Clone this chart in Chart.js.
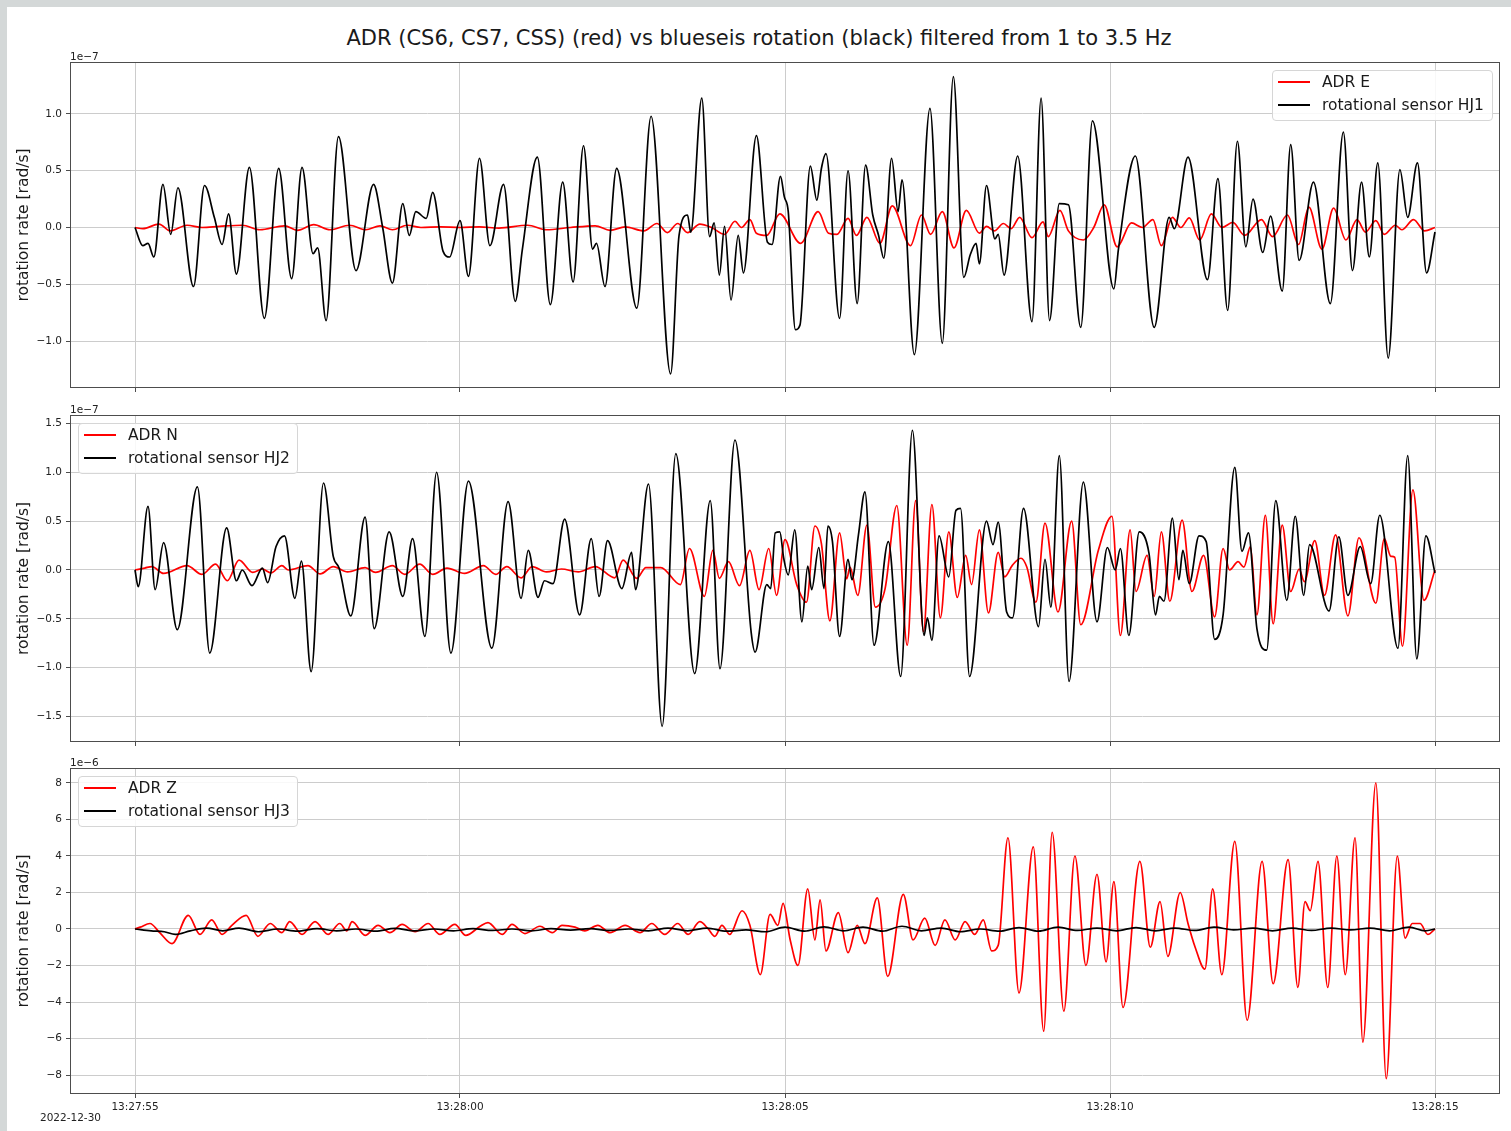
<!DOCTYPE html>
<html>
<head>
<meta charset="utf-8">
<script src="https://cdn.jsdelivr.net/npm/chart.js@4.4.1/dist/chart.umd.min.js"></script>
<style>
  html, body { margin: 0; padding: 0; width: 1511px; height: 1131px; overflow: hidden;
    background: #d4d8d8; font-family: 'DejaVu Sans', sans-serif; color: #222; }
  #fig { position: absolute; left: 7px; top: 7px; right: 0; bottom: 0; background: #fff; }
  .panel { position: absolute; left: 0; width: 1511px; }
  .txt { position: absolute; white-space: nowrap; }
  #title { left: 7px; width: 1504px; top: 26px; text-align: center; font-size: 21px; line-height: 24px; color: #1a1a1a; }
  .offset { font-size: 10.5px; line-height: 12px; color: #222; }
  .legend { position: absolute; background: rgba(255,255,255,0.85); border: 1px solid #d6d6d6;
    border-radius: 4px; box-sizing: border-box; }
  .legend .row { position: absolute; left: 0; height: 20px; font-size: 15.5px; line-height: 20px; color: #1a1a1a; }
  .legend .swatch { position: absolute; left: 5px; top: 9px; width: 32px; height: 2px; }
  .legend .lab { position: absolute; left: 49px; top: 0; white-space: nowrap; }
</style>
</head>
<body>
<div id="fig"></div>
<div id="title" class="txt">ADR (CS6, CS7, CSS) (red) vs blueseis rotation (black) filtered from 1 to 3.5 Hz</div>
<div id="panels"></div>
<script>
// ---- time axis (seconds after 13:27:55 on 2022-12-30) ----
const tickSeconds = [0, 5, 10, 15, 20];
const tickLabels = ['13:27:55', '13:28:00', '13:28:05', '13:28:10', '13:28:15'];
const dateLabel = '2022-12-30';

// ---- East component, values in 1e-7 rad/s ----
const yTicksE = [-1.0, -0.5, 0.0, 0.5, 1.0];
const adrE_t = [0, 0.12, 0.37, 0.54, 0.8, 1.03, 1.3, 1.65, 1.92, 2.3, 2.5, 2.75, 3.0, 3.3, 3.55, 3.77, 3.96, 4.19, 4.4, 4.7, 5.0, 5.3, 5.6, 6.04, 6.33, 6.7, 7.08, 7.31, 7.54, 7.83, 8.03, 8.19, 8.35, 8.5, 8.69, 8.87, 9.07, 9.23, 9.33, 9.46, 9.56, 9.72, 9.92,
  10.24, 10.51, 10.67, 10.80, 10.97, 11.10, 11.26, 11.46, 11.65, 11.93, 12.10, 12.24, 12.42, 12.60, 12.79, 12.99, 13.10, 13.22, 13.36, 13.48, 13.61, 13.80, 13.97, 14.05, 14.23, 14.36, 14.59, 14.75, 14.91, 15.11, 15.33, 15.50, 15.66, 15.79, 15.96, 16.09, 16.22, 16.38, 16.56, 16.72, 16.89, 17.07, 17.33, 17.50, 17.73, 17.90, 18.06, 18.26, 18.44, 18.63, 18.80, 18.93, 19.09, 19.22, 19.39, 19.49, 19.67, 19.84, 20.0];
const adrE_v = [0, -0.01, 0.03, -0.03, 0.02, 0, 0.01, 0.02, -0.02, 0.015, -0.025, 0.025, -0.02, 0.02, -0.02, 0.015, -0.02, 0.02, 0, 0.005, 0, 0.005, -0.005, 0.02, -0.02, 0, 0.015, -0.025, 0.005, -0.03, 0.035, -0.045, 0.035, -0.045, 0.03, 0.0, -0.06, 0.055, 0.0, 0.07, -0.05, -0.07, 0.12,
  -0.14, 0.14, -0.05, -0.06, 0.08, -0.07, 0.09, -0.14, 0.19, -0.16, 0.11, -0.06, 0.14, -0.18, 0.15, -0.05, 0.01, -0.03, 0.035, -0.01, 0.09, -0.09, 0.05, -0.08, 0.15, -0.03, -0.11, 0.0, 0.20, -0.17, 0.04, 0.0, 0.07, -0.16, 0.09, 0.0, 0.085, -0.11, 0.12, 0.0, 0.045, -0.07, 0.07, -0.08, 0.11, -0.15, 0.18, -0.19, 0.17, -0.11, 0.07, -0.04, 0.06, -0.06, 0.02, -0.02, 0.07, -0.03, 0];
const hj1_t = [0, 0.12, 0.2, 0.29, 0.43, 0.55, 0.66, 0.90, 1.07, 1.22, 1.34, 1.44, 1.56, 1.76, 1.99, 2.21, 2.41, 2.57, 2.74, 2.81, 2.94, 3.13, 3.40, 3.67, 3.81, 3.96, 4.12, 4.22, 4.32, 4.48, 4.58, 4.74, 4.84, 5.0, 5.13, 5.30, 5.46, 5.67, 5.85, 5.96, 6.19, 6.39, 6.58, 6.74, 6.90, 7.04, 7.10, 7.23, 7.41, 7.72, 7.94, 8.24, 8.37, 8.50, 8.55, 8.72, 8.84, 8.91, 8.99, 9.07, 9.17, 9.28, 9.36, 9.56, 9.73, 9.80, 9.93, 9.99,
  10.05, 10.16, 10.23, 10.39, 10.49, 10.56, 10.63, 10.84, 10.97, 11.11, 11.24, 11.35, 11.44, 11.52, 11.64, 11.74, 11.80, 11.99, 12.23, 12.42, 12.59, 12.75, 12.85, 12.94, 12.99, 13.10, 13.23, 13.28, 13.37, 13.58, 13.80, 13.94, 14.07, 14.22, 14.36, 14.55, 14.73, 15.06, 15.13, 15.39, 15.68, 15.91, 15.99, 16.20, 16.50, 16.66, 16.81, 16.96, 17.09, 17.20, 17.35, 17.47, 17.65, 17.78, 17.91, 18.13, 18.39, 18.59, 18.73, 18.87, 18.99, 19.12, 19.28, 19.46, 19.58, 19.73, 19.87, 20.0];
const hj1_v = [0, -0.16, -0.14, -0.26, 0.38, -0.06, 0.35, -0.52, 0.37, 0.09, -0.15, 0.12, -0.41, 0.53, -0.80, 0.52, -0.45, 0.53, -0.23, -0.18, -0.82, 0.80, -0.38, 0.38, 0.0, -0.49, 0.21, -0.07, 0.14, 0.08, 0.31, -0.21, -0.26, 0.06, -0.43, 0.61, -0.16, 0.38, -0.65, -0.19, 0.62, -0.68, 0.40, -0.48, 0.72, -0.19, -0.14, -0.52, 0.52, -0.71, 0.98, -1.29, -0.07, 0.11, -0.04, 1.14, -0.08, 0.04, -0.42, 0.01, -0.64, -0.07, -0.40, 0.81, -0.13, -0.15, 0.45, 0.27,
  0.14, -0.90, -0.86, 0.54, 0.24, 0.52, 0.65, -0.80, 0.50, -0.67, 0.55, 0.11, -0.07, -0.27, 0.61, 0.14, 0.42, -1.12, 1.05, -1.02, 1.33, -0.44, -0.24, -0.14, -0.32, 0.37, -0.10, -0.06, -0.42, 0.63, -0.83, 1.14, -0.82, 0.21, 0.20, -0.88, 0.94, -0.54, -0.19, 0.63, -0.88, 0.09, -0.01, 0.62, -0.46, 0.43, -0.73, 0.76, -0.17, 0.25, -0.22, 0.10, -0.56, 0.73, -0.29, 0.40, -0.67, 0.84, -0.38, 0.40, -0.26, 0.57, -1.15, 0.51, 0.09, 0.57, -0.40, -0.04];

// ---- North component, values in 1e-7 rad/s ----
const yTicksN = [-1.5, -1.0, -0.5, 0.0, 0.5, 1.0, 1.5];
const adrN_t = [0, 0.15, 0.26, 0.44, 0.80, 1.03, 1.24, 1.42, 1.60, 1.81, 1.96, 2.09, 2.26, 2.36, 2.66, 2.85, 3.05, 3.27, 3.54, 3.70, 3.96, 4.15, 4.38, 4.58, 4.80, 5.07, 5.36, 5.55, 5.72, 5.94, 6.11, 6.33, 6.56, 6.82, 7.08, 7.38, 7.51, 7.72, 7.86, 8.09, 8.39, 8.53, 8.76, 8.89, 8.99, 9.13, 9.30, 9.46, 9.60, 9.75, 9.87, 10.0,
  10.18, 10.33, 10.46, 10.56, 10.69, 10.84, 10.95, 11.0, 11.12, 11.26, 11.39, 11.54, 11.72, 11.88, 12.01, 12.13, 12.26, 12.39, 12.52, 12.65, 12.78, 12.87, 12.99, 13.13, 13.28, 13.38, 13.50, 13.63, 13.72, 13.86, 14.00, 14.20, 14.41, 14.55, 14.82, 15.03, 15.16, 15.31, 15.40, 15.57, 15.68, 15.79, 15.92, 16.11, 16.26, 16.44, 16.61, 16.74, 16.84, 16.97, 17.06, 17.16, 17.26, 17.39, 17.51, 17.65, 17.78, 17.91, 17.99, 18.15, 18.30, 18.47, 18.66, 18.83, 19.09, 19.22, 19.32, 19.38, 19.50, 19.66, 19.83, 20.0];
const adrN_v = [0, 0.02, 0.035, -0.035, 0.045, -0.045, 0.06, -0.11, 0.10, -0.025, 0.01, -0.03, 0.045, 0.0, 0.045, -0.04, 0.035, -0.02, 0.025, -0.025, 0.045, -0.045, 0.06, -0.045, 0.02, -0.035, 0.045, -0.045, 0.035, -0.08, 0.035, -0.02, 0.01, -0.02, 0.035, -0.08, 0.10, -0.085, 0.025, 0.025, -0.15, 0.22, -0.27, 0.20, -0.085, 0.085, -0.16, 0.20, -0.20, 0.22, -0.26, 0.31,
  -0.15, -0.33, 0.45, 0.27, -0.52, 0.38, -0.09, 0.03, -0.26, 0.46, -0.38, -0.19, 0.66, -0.77, 0.71, -0.63, 0.67, -0.49, 0.39, -0.28, 0.15, -0.15, 0.41, -0.44, 0.18, -0.07, 0.05, 0.12, 0.03, -0.33, 0.48, -0.43, 0.50, -0.56, 0.20, 0.55, -0.67, 0.41, -0.22, 0.15, -0.27, 0.39, -0.32, 0.51, -0.22, 0.15, -0.48, 0.22, 0.0, 0.085, 0.03, 0.24, -0.46, 0.56, -0.55, 0.46, -0.22, 0.01, -0.12, 0.30, -0.26, 0.36, -0.47, 0.33, -0.34, 0.32, 0.14, 0.13, -0.78, 0.82, -0.31, 0];
const hj2_t = [0, 0.05, 0.20, 0.31, 0.44, 0.65, 0.96, 1.15, 1.41, 1.56, 1.65, 1.80, 1.96, 2.04, 2.17, 2.30, 2.46, 2.56, 2.71, 2.90, 3.05, 3.14, 3.32, 3.54, 3.68, 3.91, 4.12, 4.27, 4.46, 4.64, 4.86, 5.13, 5.49, 5.74, 5.94, 6.05, 6.20, 6.30, 6.43, 6.61, 6.84, 7.02, 7.14, 7.27, 7.49, 7.64, 7.70, 7.90, 8.11, 8.32, 8.61, 8.85, 9.00, 9.23, 9.48, 9.54, 9.72, 9.78, 9.85, 9.92, 9.98,
  10.05, 10.15, 10.26, 10.35, 10.41, 10.52, 10.60, 10.66, 10.73, 10.84, 10.97, 11.03, 11.13, 11.23, 11.37, 11.59, 11.78, 11.96, 12.14, 12.19, 12.26, 12.37, 12.52, 12.63, 12.70, 12.84, 13.10, 13.20, 13.28, 13.41, 13.50, 13.67, 13.90, 14.00, 14.09, 14.22, 14.37, 14.59, 14.80, 14.96, 15.08, 15.16, 15.29, 15.45, 15.60, 15.70, 15.76, 15.83, 15.96, 16.06, 16.12, 16.22, 16.37, 16.48, 16.61, 16.74, 16.92, 17.03, 17.13, 17.26, 17.41, 17.55, 17.72, 17.85, 17.98, 18.07, 18.37, 18.52, 18.66, 18.85, 19.01, 19.15, 19.43, 19.58, 19.72, 19.86, 20.0];
const hj2_v = [0, -0.17, 0.65, -0.20, 0.28, -0.61, 0.85, -0.85, 0.43, -0.11, 0.0, -0.16, 0.02, -0.13, 0.24, 0.35, -0.29, 0.09, -1.04, 0.89, 0.14, 0.02, -0.47, 0.54, -0.60, 0.39, -0.27, 0.32, -0.68, 1.00, -0.85, 0.91, -0.80, 0.70, -0.29, 0.20, -0.28, -0.11, -0.14, 0.52, -0.46, 0.32, -0.27, 0.30, -0.19, 0.18, -0.20, 0.88, -1.60, 1.19, -1.06, 0.71, -1.01, 1.33, -0.64, -0.84, -0.15, -0.19, 0.38, 0.39, 0.12,
  -0.05, 0.41, -0.53, 0.04, -0.20, 0.23, -0.19, 0.45, 0.29, -0.68, 0.11, -0.10, 0.36, 0.80, -0.77, 0.29, -1.09, 1.43, -0.67, -0.49, -0.72, 0.35, -0.07, 0.61, 0.63, -1.09, 0.50, 0.26, 0.49, -0.43, -0.49, 0.63, -0.58, 0.11, -0.38, 1.17, -1.14, 0.90, -0.53, 0.23, 0.0, 0.22, -0.67, 0.39, 0.17, -0.46, -0.27, -0.32, 0.53, -0.10, 0.20, -0.14, 0.35, 0.29, -0.71, -0.46, 1.05, 0.19, 0.38, -0.60, -0.82, 0.71, -0.31, 0.55, -0.26, 0.26, -0.42, 0.34, -0.26, 0.24, -0.14, 0.56, -0.80, 1.17, -0.91, 0.35, -0.03];

// ---- Vertical component, values in 1e-6 rad/s ----
const yTicksZ = [-8, -6, -4, -2, 0, 2, 4, 6, 8];
const adrZ_t = [
  0, 0.08, 0.23, 0.38, 0.57, 0.82, 1.0, 1.18, 1.34, 1.49,
  1.71, 1.89, 2.08, 2.26, 2.38, 2.57, 2.77, 2.97, 3.15, 3.26,
  3.34, 3.54, 3.74, 3.92, 4.11, 4.31, 4.51, 4.69, 4.92, 5.09,
  5.31, 5.43, 5.65, 5.80, 6.0, 6.23, 6.42, 6.57, 6.77, 6.92,
  7.12, 7.31, 7.54, 7.77, 7.95, 8.15, 8.35, 8.51, 8.69, 8.82,
  8.92, 9.03, 9.15, 9.34, 9.46, 9.62, 9.77, 9.89, 9.97, 10.08,
  10.20, 10.35, 10.46, 10.54, 10.63, 10.82, 10.97, 11.11, 11.23, 11.42,
  11.58, 11.82, 11.97, 12.15, 12.31, 12.46, 12.62, 12.77, 12.92, 13.05,
  13.18, 13.28, 13.43, 13.60, 13.82, 13.98, 14.11, 14.29, 14.46, 14.63,
  14.80, 14.94, 15.06, 15.20, 15.46, 15.62, 15.77, 15.89, 16.08, 16.20,
  16.31, 16.46, 16.58, 16.72, 16.92, 17.11, 17.34, 17.51, 17.74, 17.89,
  18.00, 18.08, 18.20, 18.35, 18.49, 18.62, 18.77, 18.89, 19.09, 19.25,
  19.42, 19.54, 19.65, 19.77, 19.89, 20.0];
const adrZ_v = [
  0, 0.1, 0.3, -0.2, -0.8, 0.75, -0.3, 0.5, -0.3, 0.2,
  0.75, -0.4, 0.3, -0.2, 0.4, -0.3, 0.4, -0.3, 0.3, -0.1,
  0.4, -0.35, 0.2, -0.2, 0.25, -0.15, 0.3, -0.3, 0.25, -0.35,
  0.15, 0.35, -0.3, 0.25, -0.25, 0.15, -0.2, 0.2, 0.1, -0.1,
  0.2, -0.2, 0.2, -0.2, 0.3, -0.3, 0.3, -0.3, 0.4, 0.0,
  -0.4, 0.2, -0.3, 1.0, 0.2, -2.5, 0.8, 0.2, 1.4, -0.6,
  -2.0, 2.2, -0.6, 1.6, -1.2, 0.9, -1.3, 0.2, -0.8, 1.7,
  -2.6, 1.9, -0.6, 0.6, -0.9, 0.5, -0.6, 0.4, -0.3, 0.5,
  -1.2, -0.9, 5.0, -3.5, 4.5, -5.6, 5.3, -4.5, 4.0, -2.0,
  3.0, -1.8, 2.6, -4.3, 3.7, -1.0, 1.5, -1.5, 2.0, 0.3,
  -1.0, -2.2, 2.2, -2.5, 4.8, -5.0, 3.7, -3.0, 3.8, -3.2,
  1.5, 1.0, 3.7, -3.2, 4.0, -2.5, 5.0, -6.2, 8.0, -8.2,
  4.0, -0.5, 0.3, 0.3, -0.3, 0];
const hj3_t = [0, 0.25, 0.45, 0.62, 0.85, 1.1, 1.35, 1.6, 1.9, 2.2, 2.5, 2.8, 3.1, 3.4, 3.7, 4.0, 4.3, 4.6, 4.9, 5.2, 5.5, 5.8, 6.1, 6.4, 6.7, 7.0, 7.3, 7.6, 7.9, 8.2, 8.5, 8.8, 9.1, 9.4, 9.7, 10.0, 10.3, 10.6, 10.9, 11.2, 11.5, 11.8, 12.1, 12.4, 12.7, 13.0, 13.3, 13.6, 13.9, 14.2, 14.5, 14.8, 15.1, 15.4, 15.7, 16.0, 16.3, 16.6, 16.9, 17.2, 17.5, 17.8, 18.1, 18.4, 18.7, 19.0, 19.3, 19.6, 19.85, 20.0];
const hj3_v = [0, -0.1, -0.15, -0.3, -0.1, 0.05, -0.1, 0.05, -0.15, 0.0, -0.12, 0.02, -0.1, 0.0, -0.12, 0.03, -0.1, 0.0, -0.1, 0.02, -0.08, 0.0, -0.1, 0.02, -0.06, 0.02, -0.08, 0.0, -0.1, 0.05, -0.1, 0.05, -0.12, -0.05, -0.15, 0.1, -0.12, 0.12, -0.1, 0.1, -0.12, 0.15, -0.1, 0.05, -0.15, 0.0, -0.12, 0.08, -0.12, 0.1, -0.08, 0.05, -0.1, 0.08, -0.1, 0.05, -0.08, 0.1, -0.05, 0.05, -0.1, 0.05, -0.08, 0.05, -0.05, 0.05, -0.1, 0.1, -0.1, 0];

// ---- layout of the three stacked axes ----
const PLOT_LEFT = 70, PLOT_RIGHT = 1500, PAD_TOP = 12;
const panels = [
  { top: 62, height: 326, yMin: -1.414, yMax: 1.458, yTicks: yTicksE, decimals: 1, exponent: '1e\u22127', xLabels: false,
    series: [ { label: 'ADR E', color: '#ff0000', t: adrE_t, v: adrE_v },
              { label: 'rotational sensor HJ1', color: '#000000', t: hj1_t, v: hj1_v } ],
    legend: { left: 1272, top: 70, width: 221, height: 51 } },
  { top: 415, height: 327, yMin: -1.76, yMax: 1.586, yTicks: yTicksN, decimals: 1, exponent: '1e\u22127', xLabels: false,
    series: [ { label: 'ADR N', color: '#ff0000', t: adrN_t, v: adrN_v },
              { label: 'rotational sensor HJ2', color: '#000000', t: hj2_t, v: hj2_v } ],
    legend: { left: 78, top: 423, width: 220, height: 51 } },
  { top: 768, height: 326, yMin: -9.04, yMax: 8.82, yTicks: yTicksZ, decimals: 0, exponent: '1e\u22126', xLabels: true,
    series: [ { label: 'ADR Z', color: '#ff0000', t: adrZ_t, v: adrZ_v },
              { label: 'rotational sensor HJ3', color: '#000000', t: hj3_t, v: hj3_v } ],
    legend: { left: 78, top: 776, width: 220, height: 51 } }
];

Chart.defaults.font.family = "'DejaVu Sans', sans-serif";
Chart.defaults.animation = false;

// axes frame (all four spines)
const framePlugin = {
  id: 'frame',
  afterDatasetsDraw(chart) {
    const a = chart.chartArea, ctx = chart.ctx;
    ctx.save();
    ctx.strokeStyle = '#4d4d4d';
    ctx.lineWidth = 1;
    ctx.strokeRect(Math.round(a.left) + 0.5, Math.round(a.top) + 0.5,
                   Math.round(a.right - a.left) - 1, Math.round(a.bottom - a.top) - 1);
    ctx.restore();
  }
};

const fmt = (v, d) => (v < 0 ? '\u2212' : '') + Math.abs(v).toFixed(d);
const host = document.getElementById('panels');

panels.forEach((p) => {
  const xh = p.xLabels ? 30 : 12;
  let wrapTop = p.top - PAD_TOP, wrapH = PAD_TOP + p.height + xh;
  const wrap = document.createElement('div');
  wrap.className = 'panel';
  wrap.style.top = wrapTop + 'px';
  wrap.style.height = wrapH + 'px';
  const cv = document.createElement('canvas');
  wrap.appendChild(cv);
  host.appendChild(wrap);

  // exponent label above the axes
  const off = document.createElement('div');
  off.className = 'txt offset';
  off.textContent = p.exponent;
  off.style.left = PLOT_LEFT + 'px';
  off.style.top = (p.top - 12) + 'px';
  document.body.appendChild(off);

  const chart = new Chart(cv, {
    type: 'line',
    data: {
      datasets: p.series.map((s, i) => ({
        label: s.label,
        data: s.t.map((t, k) => ({ x: t, y: s.v[k] })),
        borderColor: s.color,
        borderWidth: 1.7,
        pointRadius: 0,
        fill: false,
        cubicInterpolationMode: 'monotone',
        order: i === 0 ? 2 : 1
      }))
    },
    options: {
      responsive: true,
      maintainAspectRatio: false,
      layout: { autoPadding: false, padding: { top: PAD_TOP, right: 1511 - PLOT_RIGHT, left: 0, bottom: 0 } },
      plugins: { legend: { display: false }, tooltip: { enabled: false } },
      scales: {
        x: {
          type: 'linear', min: -1, max: 21,
          afterBuildTicks: sc => { sc.ticks = tickSeconds.map(v => ({ value: v })); },
          afterFit: sc => { sc.height = xh; },
          grid: { color: '#cccccc', lineWidth: 1, drawTicks: true, tickLength: 4, tickColor: '#4d4d4d', tickWidth: 1 },
          border: { display: false },
          ticks: {
            display: p.xLabels, autoSkip: false, maxRotation: 0, padding: 3,
            color: '#222', font: { size: 10.5 },
            callback: (v) => { const i = tickSeconds.indexOf(v); return i >= 0 ? tickLabels[i] : ''; }
          }
        },
        y: {
          min: p.yMin, max: p.yMax,
          afterBuildTicks: sc => { sc.ticks = p.yTicks.map(v => ({ value: v })); },
          afterFit: sc => { sc.width = PLOT_LEFT; },
          grid: { color: '#cccccc', lineWidth: 1, drawTicks: true, tickLength: 4, tickColor: '#4d4d4d', tickWidth: 1 },
          border: { display: false },
          ticks: { padding: 4, color: '#222', font: { size: 10.5 }, callback: v => fmt(v, p.decimals) },
          title: { display: true, text: 'rotation rate [rad/s]', color: '#1a1a1a',
                   font: { size: 15.5 }, padding: { top: 15, bottom: 0 } }
        }
      }
    },
    plugins: [framePlugin]
  });

  // keep the plotting area exactly on the intended page rows
  const ca = chart.chartArea;
  const dTop = Math.round(ca.top) - PAD_TOP;
  const dBot = (PAD_TOP + p.height) - Math.round(ca.bottom);
  if (dTop !== 0 || dBot !== 0) {
    wrapTop -= dTop;
    wrapH += dTop + dBot;
    wrap.style.top = wrapTop + 'px';
    wrap.style.height = wrapH + 'px';
    chart.resize();
  }

  // legend box inside the axes
  const lg = document.createElement('div');
  lg.className = 'legend';
  Object.assign(lg.style, { left: p.legend.left + 'px', top: p.legend.top + 'px',
                            width: p.legend.width + 'px', height: p.legend.height + 'px' });
  p.series.forEach((s, i) => {
    const row = document.createElement('div');
    row.className = 'row';
    row.style.top = (1 + 23 * i) + 'px';
    const sw = document.createElement('div');
    sw.className = 'swatch';
    sw.style.background = s.color;
    const lab = document.createElement('div');
    lab.className = 'lab';
    lab.textContent = s.label;
    row.appendChild(sw); row.appendChild(lab);
    lg.appendChild(row);
  });
  document.body.appendChild(lg);
});

const dl = document.createElement('div');
dl.className = 'txt offset';
dl.textContent = dateLabel;
dl.style.left = '40px';
dl.style.top = '1111px';
document.body.appendChild(dl);
</script>
</body>
</html>
